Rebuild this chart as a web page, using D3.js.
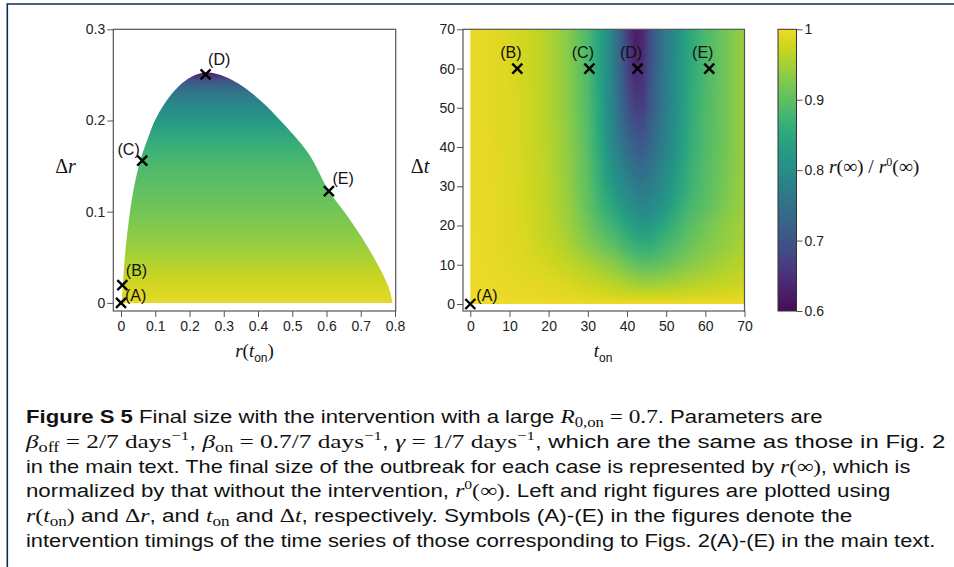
<!DOCTYPE html>
<html><head><meta charset="utf-8">
<script src="https://cdn.jsdelivr.net/npm/d3@7"></script>
<style>
html,body{margin:0;padding:0;background:#fff;}
svg{display:block;}
text{white-space:pre;}
</style></head>
<body>
<svg id="chart" width="954" height="567"></svg>
<script>
// ---------------- DATA ----------------
// Left panel: boundary of reachable region (r(t_on), Δr)
const boundaryR  = [0.002,0.005,0.012,0.023,0.038,0.057,0.080,0.099,0.128,0.167,0.206,0.250,0.304,0.357,0.416,0.464,0.547,0.607,0.669,0.732,0.781,0.793];
const boundaryDr = [0.000,0.0176,0.054,0.091,0.127,0.157,0.182,0.200,0.219,0.237,0.248,0.2525,0.248,0.237,0.219,0.2005,0.164,0.1226,0.091,0.054,0.0176,0.000];
// Left panel colour (final size ratio) by Δr level
const levelDr    = [0, 0.025, 0.05, 0.075, 0.1, 0.125, 0.15, 0.175, 0.2, 0.215, 0.23, 0.24, 0.245, 0.25, 0.2525];
const levelValue = [0.995, 0.975, 0.953, 0.932, 0.915, 0.9, 0.886, 0.862, 0.822, 0.795, 0.76, 0.72, 0.692, 0.645, 0.62];
// Left panel markers
const leftLabels = ["(A)","(B)","(C)","(D)","(E)"];
const leftR      = [0, 0.004, 0.062, 0.247, 0.607];
const leftDr     = [0, 0.0194, 0.156, 0.2506, 0.1226];
// Right panel markers
const rightLabels = ["(A)","(B)","(C)","(D)","(E)"];
const rightTon    = [0, 12.0, 30.4, 42.7, 61.0];
const rightDt     = [0, 60, 60, 60, 60];
// Right panel grid: t_on (columns) × Δt (rows)
const tonGrid = [0,5,10,15,20,25,30,33,36,38,40,42,44,46,48,50,53,56,60,65,70];
const dtGrid  = [0,2,5,10,15,20,25,30,40,50,60,70];
const ratioGrid = [
 [1,1,1,1,1,1,1,1,1,1,1,1,1,1,1,1,1,1,1,1,1],
 [0.999,0.998,0.997,0.995,0.993,0.991,0.988,0.986,0.983,0.981,0.979,0.978,0.977,0.977,0.977,0.978,0.979,0.981,0.983,0.986,0.989],
 [0.998,0.997,0.995,0.993,0.99,0.985,0.976,0.971,0.966,0.961,0.956,0.951,0.946,0.946,0.948,0.951,0.956,0.961,0.966,0.971,0.976],
 [0.998,0.996,0.992,0.987,0.98,0.97,0.955,0.945,0.935,0.925,0.915,0.905,0.9,0.9,0.905,0.91,0.92,0.93,0.94,0.955,0.965],
 [0.998,0.995,0.99,0.983,0.971,0.955,0.93,0.915,0.9,0.89,0.875,0.865,0.86,0.86,0.87,0.88,0.895,0.91,0.925,0.94,0.955],
 [0.997,0.994,0.989,0.981,0.966,0.947,0.915,0.895,0.875,0.86,0.845,0.83,0.82,0.825,0.84,0.855,0.875,0.895,0.915,0.935,0.95],
 [0.997,0.994,0.988,0.98,0.965,0.942,0.905,0.875,0.85,0.83,0.81,0.795,0.79,0.795,0.81,0.825,0.855,0.88,0.9,0.925,0.945],
 [0.997,0.994,0.988,0.979,0.964,0.939,0.9,0.865,0.83,0.81,0.79,0.77,0.765,0.775,0.79,0.81,0.84,0.87,0.895,0.92,0.945],
 [0.997,0.994,0.987,0.978,0.962,0.936,0.895,0.85,0.8,0.77,0.74,0.72,0.715,0.735,0.76,0.785,0.82,0.86,0.89,0.915,0.945],
 [0.997,0.993,0.987,0.977,0.96,0.933,0.89,0.845,0.79,0.745,0.7,0.67,0.67,0.71,0.745,0.775,0.815,0.855,0.887,0.915,0.945],
 [0.997,0.993,0.986,0.976,0.959,0.931,0.887,0.84,0.785,0.735,0.68,0.635,0.645,0.7,0.74,0.77,0.812,0.852,0.885,0.915,0.945],
 [0.997,0.993,0.986,0.976,0.958,0.93,0.885,0.84,0.785,0.73,0.665,0.62,0.635,0.69,0.735,0.77,0.81,0.85,0.885,0.915,0.945]
];
// Tick values
const leftXTicks  = [0,0.1,0.2,0.3,0.4,0.5,0.6,0.7,0.8];
const leftYTicks  = [0,0.1,0.2,0.3];
const rightXTicks = [0,10,20,30,40,50,60,70];
const rightYTicks = [0,10,20,30,40,50,60,70];
const cbarTicks   = [0.6,0.7,0.8,0.9,1];

// Caption lines: [style, text]
const captionLines = [
 [["b","Figure S 5"],["n"," Final size with the intervention with a large "],["i","R"],["sub","0,on"],["r"," = 0.7"],["n",". Parameters are"]],
 [["i","β"],["sub","off"],["r"," = 2/7 days"],["sup","−1"],["n",", "],["i","β"],["sub","on"],["r"," = 0.7/7 days"],["sup","−1"],["n",", "],["i","γ"],["r"," = 1/7 days"],["sup","−1"],["n",", which are the same as those in Fig. 2"]],
 [["n","in the main text. The final size of the outbreak for each case is represented by "],["i","r"],["r","(∞)"],["n",", which is"]],
 [["n","normalized by that without the intervention, "],["i","r"],["sup","0"],["r","(∞)"],["n",". Left and right figures are plotted using"]],
 [["i","r"],["r","("],["i","t"],["sub","on"],["r",")"],["n"," and "],["r","Δ"],["i","r"],["n",", and "],["i","t"],["sub","on"],["n"," and "],["r","Δ"],["i","t"],["n",", respectively. Symbols (A)-(E) in the figures denote the"]],
 [["n","intervention timings of the time series of those corresponding to Figs. 2(A)-(E) in the main text."]]
];
const captionWidths = [797, 920, 885, 865, 827, 910];

// ---------------- DRAWING ----------------
const svg = d3.select("#chart");
const SANS = "'Liberation Sans', Arial, Helvetica, sans-serif";
const SERIF = "'Liberation Serif', 'Times New Roman', serif";
const TICKC = "#222";
const AXC = "#555";

const viridisMuted = t => {
  const c = d3.rgb(d3.interpolateViridis(t));
  const k = 0.9, g = 100;
  return d3.rgb(c.r*k + g*(1-k), c.g*k + g*(1-k), c.b*k + g*(1-k)).toString();
};
const color = d3.scaleSequential(viridisMuted).domain([0.6, 1]).clamp(true);

// outer frame
svg.append("line").attr("x1",7.3).attr("x2",954).attr("y1",4).attr("y2",4).attr("stroke","#0b2d5b").attr("stroke-width",1.6);
svg.append("line").attr("x1",7.3).attr("x2",7.3).attr("y1",3.2).attr("y2",567).attr("stroke","#0b2d5b").attr("stroke-width",1.6);

function styleAxis(g){
  g.select(".domain").remove();
  g.selectAll(".tick line").attr("stroke", AXC).attr("stroke-width",1);
  g.selectAll(".tick text").attr("fill", TICKC).style("font-family", SANS).style("font-size","14px");
}
const fmt1 = d => d === 0 ? "0" : (d === 1 ? "1" : d3.format(".1f")(d));

// ---------- Left panel ----------
const xL = d3.scaleLinear().domain([0,0.8]).range([121,395]);
const yL = d3.scaleLinear().domain([0,0.3]).range([302.9,29.3]);
const defs = svg.append("defs");
const grad = defs.append("linearGradient").attr("id","gradL").attr("gradientUnits","userSpaceOnUse")
  .attr("x1",0).attr("x2",0).attr("y1",yL(0)).attr("y2",yL(levelDr[levelDr.length-1]));
levelDr.forEach((d,i)=>{
  grad.append("stop").attr("offset", d/levelDr[levelDr.length-1]).attr("stop-color", color(levelValue[i]));
});
const boundaryPts = boundaryR.map((r,i)=>[r, boundaryDr[i]]);
const areaLine = d3.line().x(d=>xL(d[0])).y(d=>yL(d[1])).curve(d3.curveCatmullRom.alpha(0.5));
svg.append("path").attr("d", areaLine(boundaryPts) + "Z").attr("fill","url(#gradL)");

svg.append("rect").attr("x",113.3).attr("y",29.3).attr("width",395.7-113.3).attr("height",311-29.3)
  .attr("fill","none").attr("stroke",AXC).attr("stroke-width",1.2);
svg.append("g").attr("transform","translate(0,311)")
  .call(d3.axisBottom(xL).tickValues(leftXTicks).tickFormat(fmt1).tickSize(6).tickPadding(4)).call(styleAxis);
svg.append("g").attr("transform","translate(113.3,0)")
  .call(d3.axisLeft(yL).tickValues(leftYTicks).tickFormat(fmt1).tickSize(6).tickPadding(2)).call(styleAxis);

function cross(g, x, y){
  g.append("path").attr("d",`M${x-5},${y-5}L${x+5},${y+5}M${x-5},${y+5}L${x+5},${y-5}`)
   .attr("stroke","#000").attr("stroke-width",2.4).attr("fill","none");
}
function label(g, x, y, txt, anchor){
  g.append("text").attr("x",x).attr("y",y).attr("text-anchor",anchor||"start").text(txt)
   .style("font-family",SANS).style("font-size","16px").attr("fill","#111");
}
const gL = svg.append("g");
const leftOff = [[4,-2],[3.5,-9],[-2.5,-6],[2.5,-9],[3.5,-7]];
leftLabels.forEach((lab,i)=>{
  const px = xL(leftR[i]), py = yL(leftDr[i]);
  cross(gL, px, py);
  const o = leftOff[i];
  label(gL, px+o[0], py+o[1], lab, i===2 ? "end" : "start");
});

// Δr label
const dl = svg.append("text").attr("x",65.5).attr("y",172.5).attr("text-anchor","middle")
  .style("font-family",SERIF).style("font-size","20px").attr("fill","#111");
dl.append("tspan").text("Δ");
dl.append("tspan").style("font-style","italic").text("r");
// r(t_on) label
const rl = svg.append("text").attr("x",254.5).attr("y",357).attr("text-anchor","middle")
  .style("font-family",SERIF).style("font-size","19px").attr("fill","#111");
rl.append("tspan").style("font-style","italic").text("r");
rl.append("tspan").text("(");
rl.append("tspan").style("font-style","italic").text("t");
rl.append("tspan").attr("dy",5).style("font-family",SANS).style("font-size","12px").text("on");
rl.append("tspan").attr("dy",-5).text(")");

// ---------- Right panel ----------
const xR = d3.scaleLinear().domain([0,70]).range([470.3,744.5]);
const yR = d3.scaleLinear().domain([0,70]).range([304,29.3]);
(function(){
  const x0 = xR(0), x1 = xR(70), y0 = yR(70), y1 = yR(0);
  const W = Math.round(x1-x0), H = Math.round(y1-y0);
  const cv = document.createElement("canvas"); cv.width = W; cv.height = H;
  const ctx = cv.getContext("2d");
  const img = ctx.createImageData(W,H);
  function locate(grid, v){
    let i = d3.bisectRight(grid, v) - 1;
    i = Math.max(0, Math.min(grid.length-2, i));
    const f = Math.max(0, Math.min(1, (v-grid[i])/(grid[i+1]-grid[i])));
    return [i,f];
  }
  for (let py=0; py<H; py++){
    const dt = yR.invert(y0 + py + 0.5);
    const [j,fy] = locate(dtGrid, dt);
    for (let px=0; px<W; px++){
      const t = xR.invert(x0 + px + 0.5);
      const [i,fx] = locate(tonGrid, t);
      const v = (1-fy)*((1-fx)*ratioGrid[j][i] + fx*ratioGrid[j][i+1]) + fy*((1-fx)*ratioGrid[j+1][i] + fx*ratioGrid[j+1][i+1]);
      const c = d3.rgb(color(v));
      const k = (py*W+px)*4;
      img.data[k]=c.r; img.data[k+1]=c.g; img.data[k+2]=c.b; img.data[k+3]=255;
    }
  }
  ctx.putImageData(img,0,0);
  svg.append("image").attr("x",x0).attr("y",y0).attr("width",x1-x0).attr("height",y1-y0)
    .attr("preserveAspectRatio","none").attr("href", cv.toDataURL());
})();
svg.append("rect").attr("x",463).attr("y",29.3).attr("width",744.5-463).attr("height",311-29.3)
  .attr("fill","none").attr("stroke",AXC).attr("stroke-width",1.2);
svg.append("g").attr("transform","translate(0,311)")
  .call(d3.axisBottom(xR).tickValues(rightXTicks).tickFormat(d3.format("d")).tickSize(6).tickPadding(4)).call(styleAxis);
svg.append("g").attr("transform","translate(463,0)")
  .call(d3.axisLeft(yR).tickValues(rightYTicks).tickFormat(d3.format("d")).tickSize(6).tickPadding(2)).call(styleAxis);

const gR = svg.append("g");
rightLabels.forEach((lab,i)=>{
  const px = xR(rightTon[i]), py = yR(rightDt[i]);
  cross(gR, px, py);
  if (i===0) label(gR, px+6, py-3, lab, "start");
  else label(gR, px-6.5, py-11, lab, "middle");
});
const tl = svg.append("text").attr("x",420).attr("y",172.5).attr("text-anchor","middle")
  .style("font-family",SERIF).style("font-size","20px").attr("fill","#111");
tl.append("tspan").text("Δ");
tl.append("tspan").style("font-style","italic").text("t");
const tonl = svg.append("text").attr("x",603).attr("y",357).attr("text-anchor","middle")
  .style("font-family",SERIF).style("font-size","19px").attr("fill","#111");
tonl.append("tspan").style("font-style","italic").text("t");
tonl.append("tspan").attr("dy",5).style("font-family",SANS).style("font-size","12px").text("on");

// ---------- Colorbar ----------
const yC = d3.scaleLinear().domain([0.6,1]).range([311,29.3]);
const cg = defs.append("linearGradient").attr("id","gradC").attr("gradientUnits","userSpaceOnUse")
  .attr("x1",0).attr("x2",0).attr("y1",yC(0.6)).attr("y2",yC(1));
d3.range(0,1.0001,0.05).forEach(f=>{
  cg.append("stop").attr("offset",f).attr("stop-color", color(0.6+0.4*f));
});
svg.append("rect").attr("x",778).attr("y",29.3).attr("width",18.5).attr("height",311-29.3)
  .attr("fill","url(#gradC)").attr("stroke","#333").attr("stroke-width",1);
svg.append("g").attr("transform","translate(796.5,0)")
  .call(d3.axisRight(yC).tickValues(cbarTicks).tickFormat(fmt1).tickSize(6).tickPadding(2)).call(styleAxis);
const cl = svg.append("text").attr("x",829).attr("y",172.5)
  .style("font-family",SERIF).style("font-size","19.5px").attr("fill","#111");
cl.append("tspan").style("font-style","italic").text("r");
cl.append("tspan").text("(∞) / ");
cl.append("tspan").style("font-style","italic").text("r");
cl.append("tspan").attr("dy",-7).style("font-size","12px").text("0");
cl.append("tspan").attr("dy",7).text("(∞)");

// ---------- Caption ----------
const baselines = [423.3, 448, 472.5, 497.3, 522, 546.5];
captionLines.forEach((spans, li)=>{
  const g = svg.append("g").attr("transform",`translate(26,${baselines[li]})`);
  const t = g.append("text").attr("x",0).attr("y",0).attr("fill","#111").style("font-size","18.5px");
  let shift = 0;
  spans.forEach(([st, txt])=>{
    const ts = t.append("tspan").text(txt);
    let target = 0;
    if (st === "b"){ ts.style("font-family",SANS).style("font-weight","bold"); }
    else if (st === "n"){ ts.style("font-family",SANS); }
    else if (st === "i"){ ts.style("font-family",SERIF).style("font-style","italic").style("font-size","19.5px"); }
    else if (st === "r"){ ts.style("font-family",SERIF).style("font-size","19.5px"); }
    else if (st === "sub"){ ts.style("font-family",SERIF).style("font-size","14px"); target = 4; }
    else if (st === "sup"){ ts.style("font-family",SERIF).style("font-size","13px"); target = -8; }
    if (target !== shift){ ts.attr("dy", target - shift); shift = target; }
  });
  const w = t.node().getComputedTextLength();
  const k = captionWidths[li] / w;
  t.attr("transform",`scale(${k},1)`);
});
</script>
</body></html>
